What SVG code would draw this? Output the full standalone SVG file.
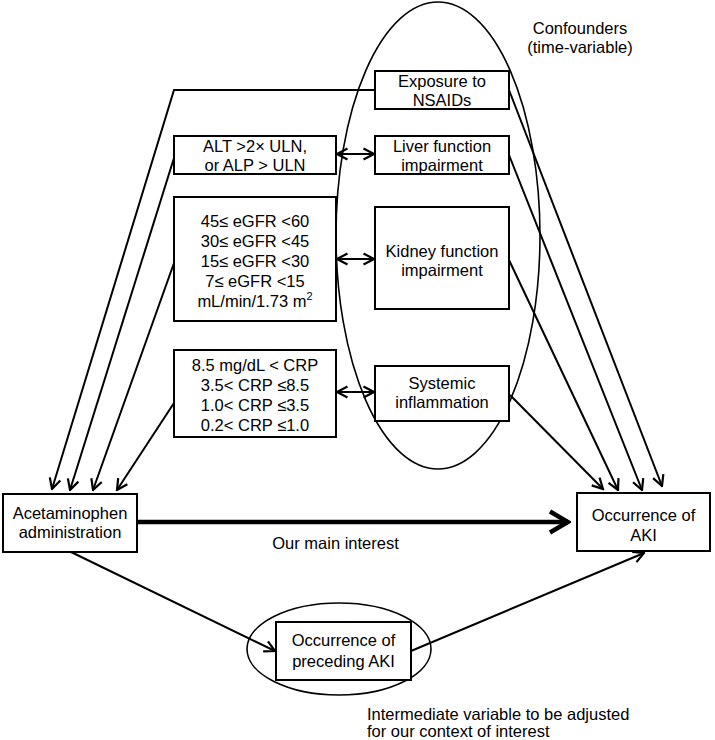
<svg xmlns="http://www.w3.org/2000/svg" width="715" height="740" viewBox="0 0 715 740">
<defs>
<style>
text{font-family:"Liberation Sans",Arial,sans-serif;font-size:16.5px;fill:#000;text-anchor:middle}
.box{fill:#fff;stroke:#000;stroke-width:2}
.ell{fill:none;stroke:#000;stroke-width:1.6}
.ln{fill:none;stroke:#000;stroke-width:2}
.thick{fill:none;stroke:#000;stroke-width:4.5}
.lft{text-anchor:start}
</style>
<marker id="ah" viewBox="0 0 14 14" refX="12.5" refY="7" markerWidth="14" markerHeight="14" markerUnits="userSpaceOnUse" orient="auto-start-reverse">
<path d="M2,1.5 L12.5,7 L2,12.5" fill="none" stroke="#000" stroke-width="2.2"/>
</marker>
<marker id="ahb" viewBox="0 0 24 26" refX="21" refY="13" markerWidth="24" markerHeight="26" markerUnits="userSpaceOnUse" orient="auto">
<path d="M3,2.5 L21,13 L3,23.5" fill="none" stroke="#000" stroke-width="4.5"/>
</marker>
</defs>
<rect width="715" height="740" fill="#fff"/>

<g id="confounders-ellipse">
<ellipse class="ell" cx="438" cy="235.5" rx="102" ry="233.5"/>
<text x="580" y="34">Confounders</text>
<text x="580" y="53">(time-variable)</text>
</g>

<g id="connectors">
<polyline class="ln" points="375,90 174,90 52,489" marker-end="url(#ah)"/>
<line class="ln" x1="174" y1="158" x2="70" y2="490" marker-end="url(#ah)"/>
<line class="ln" x1="174" y1="263" x2="93" y2="490" marker-end="url(#ah)"/>
<line class="ln" x1="174" y1="403" x2="117" y2="490" marker-end="url(#ah)"/>
<line class="ln" x1="509" y1="90" x2="662" y2="486" marker-end="url(#ah)"/>
<line class="ln" x1="509" y1="155" x2="642" y2="490" marker-end="url(#ah)"/>
<line class="ln" x1="509" y1="260" x2="618" y2="490" marker-end="url(#ah)"/>
<line class="ln" x1="510" y1="395" x2="603" y2="489" marker-end="url(#ah)"/>
<line class="ln" x1="337" y1="154" x2="374" y2="154" marker-start="url(#ah)" marker-end="url(#ah)"/>
<line class="ln" x1="337" y1="259" x2="374" y2="259" marker-start="url(#ah)" marker-end="url(#ah)"/>
<line class="ln" x1="337" y1="392" x2="374" y2="392" marker-start="url(#ah)" marker-end="url(#ah)"/>
<line class="thick" x1="137" y1="522" x2="568" y2="522" marker-end="url(#ahb)"/>
<line class="ln" x1="71" y1="552" x2="275" y2="651" marker-end="url(#ah)"/>
<line class="ln" x1="411" y1="651" x2="644" y2="553" marker-end="url(#ah)"/>
</g>

<g id="exposure-nsaids">
<rect class="box" x="375" y="71" width="134" height="38"/>
<text x="442" y="87">Exposure to</text>
<text x="442" y="106">NSAIDs</text>
</g>

<g id="liver-function">
<rect class="box" x="375" y="136" width="134" height="38"/>
<text x="442" y="152">Liver function</text>
<text x="442" y="171">impairment</text>
</g>

<g id="alt-alp">
<rect class="box" x="174" y="136" width="162" height="38"/>
<text x="255" y="152">ALT &gt;2× ULN,</text>
<text x="255" y="171">or ALP &gt; ULN</text>
</g>

<g id="egfr">
<rect class="box" x="174" y="197" width="162" height="124"/>
<text x="255" y="227">45≤ eGFR &lt;60</text>
<text x="255" y="247">30≤ eGFR &lt;45</text>
<text x="255" y="267">15≤ eGFR &lt;30</text>
<text x="255" y="287">7≤ eGFR &lt;15</text>
<text x="255" y="307">mL/min/1.73 m<tspan dy="-7" font-size="11">2</tspan></text>
</g>

<g id="kidney-function">
<rect class="box" x="375" y="207" width="134" height="102"/>
<text x="442" y="257">Kidney function</text>
<text x="442" y="276">impairment</text>
</g>

<g id="crp">
<rect class="box" x="174" y="350" width="162" height="87"/>
<text x="255" y="371">8.5 mg/dL &lt; CRP</text>
<text x="255" y="391">3.5&lt; CRP ≤8.5</text>
<text x="255" y="411">1.0&lt; CRP ≤3.5</text>
<text x="255" y="431">0.2&lt; CRP ≤1.0</text>
</g>

<g id="systemic-inflammation">
<rect class="box" x="375" y="366" width="134" height="55"/>
<text x="442" y="389">Systemic</text>
<text x="442" y="408">inflammation</text>
</g>

<g id="acetaminophen">
<rect class="box" x="3" y="494" width="134" height="58"/>
<text x="70" y="519">Acetaminophen</text>
<text x="70" y="538">administration</text>
</g>

<g id="occurrence-aki">
<rect class="box" x="577" y="493" width="133" height="58"/>
<text x="643.5" y="521">Occurrence of</text>
<text x="643.5" y="541">AKI</text>
</g>

<g id="main-interest-label">
<text x="335.5" y="549">Our main interest</text>
</g>

<g id="preceding-aki">
<ellipse class="ell" cx="339" cy="649" rx="92" ry="46"/>
<rect class="box" x="276" y="622" width="135" height="58"/>
<text x="343.5" y="646">Occurrence of</text>
<text x="343.5" y="667">preceding AKI</text>
</g>

<g id="intermediate-label">
<text class="lft" x="367" y="720">Intermediate variable to be adjusted</text>
<text class="lft" x="367" y="737">for our context of interest</text>
</g>
</svg>
